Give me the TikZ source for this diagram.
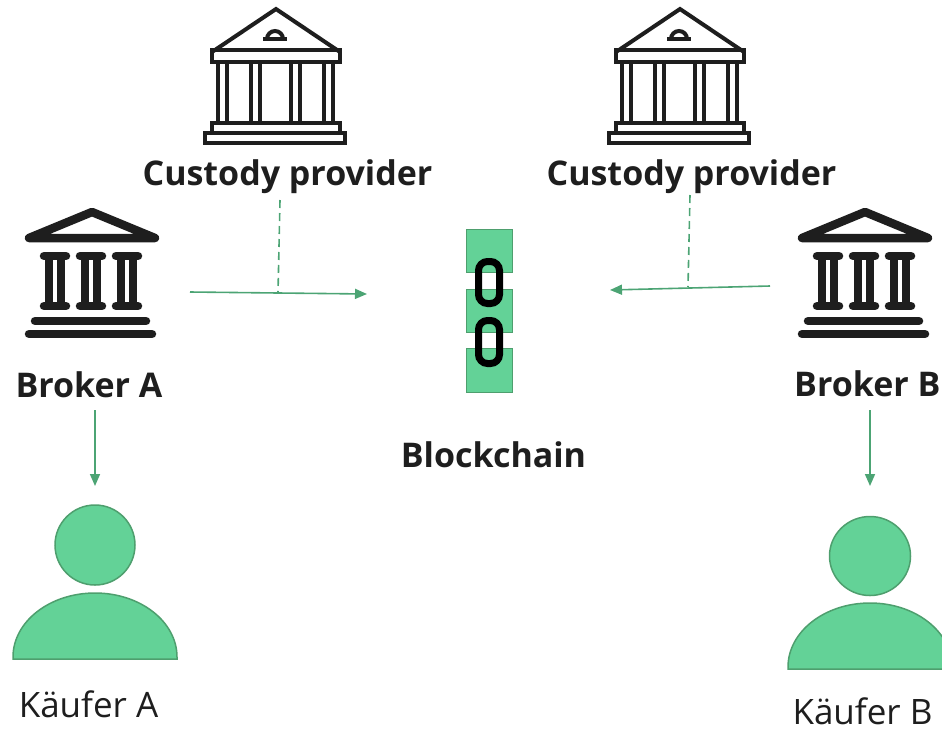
\documentclass[tikz,border=0pt]{standalone}
\usepackage{fontspec}
\setmainfont{Open Sans}
\usetikzlibrary{arrows.meta}
\definecolor{gfill}{HTML}{63D297}
\definecolor{gline}{HTML}{4E9F6E}
\definecolor{garrow}{HTML}{4CA474}
\definecolor{ink}{HTML}{1E1E1E}
\tikzset{
  lbl/.style={font=\fontsize{34}{38}\selectfont\bfseries, text=ink, inner sep=0pt, anchor=base},
  plain/.style={font=\fontsize{35}{38}\selectfont, text=ink, inner sep=0pt, anchor=base},
  flow/.style={draw=garrow, line width=1.6pt, -{Triangle[length=12pt,width=10pt]}},
  dashflow/.style={draw=garrow, line width=1.6pt, dash pattern=on 8pt off 5pt},
  custody/.style={draw=ink, line width=4pt, line join=miter},
  brk/.style={draw=ink, line width=8.5pt, line cap=round, line join=round},
  blk/.style={fill=gfill, draw=gline, line width=1pt},
  link/.style={draw=black, line width=7pt, rounded corners=9pt},
  person/.style={fill=gfill, draw=gline, line width=1.5pt}
}
\newcommand{\custodyicon}[1]{%
  \begin{scope}[shift={(#1,0)}]
    \draw[custody] (212,52) -- (276,9) -- (340,52);
    \draw[custody] (212,50) rectangle (340,62);
    \draw[custody] (263,39) -- (287,39);
    \draw[custody] (267,39) arc[start angle=180,end angle=360,radius=8];
    \foreach \cx in {222,255,295,328}{
      \draw[custody] (\cx-4.5,62) -- (\cx-4.5,123);
      \draw[custody] (\cx+4.5,62) -- (\cx+4.5,123);
    }
    \draw[custody] (212,123) rectangle (340,133);
    \draw[custody] (205,133) rectangle (345,143);
  \end{scope}}
\newcommand{\brokericon}[1]{%
  \begin{scope}[shift={(#1,0)}]
    \draw[brk] (92,212) -- (29,238) -- (155,238) -- cycle;
    \foreach \cx in {55,91,127}{
      \draw[brk] (\cx-11,256) -- (\cx+11,256);
      \draw[brk] (\cx-11,306) -- (\cx+11,306);
      \draw[ink, line width=8pt] (\cx-6,256) rectangle (\cx+6,306);
    }
    \draw[brk] (35,321) -- (146,321);
    \draw[brk] (29,334) -- (152,334);
  \end{scope}}
\begin{document}
\begin{tikzpicture}[x=1pt,y=-1pt]
\useasboundingbox (0,0) rectangle (942,732);
% custody providers
\custodyicon{0}
\custodyicon{404}
\node[lbl] (cpA) at (287.5,185) {Custody provider};
\node[lbl] (cpB) at (691.5,185) {Custody provider};
% brokers
\brokericon{0}
\brokericon{773}
\node[lbl] (brA) at (89,397) {Broker A};
\node[lbl, anchor=base west] (brB) at (794,396) {Broker B};
% blockchain
\draw[blk] (466,229) rectangle (512,272);
\draw[blk] (466,289) rectangle (512,332);
\draw[blk] (466,348) rectangle (512,392);
\draw[link] (478.5,261.5) rectangle (499.5,303.5);
\draw[link] (478.5,320.5) rectangle (499.5,363.5);
\node[lbl] (bc) at (493.5,467) {Blockchain};
% persons
\draw[person] (95,545) circle[radius=40];
\draw[person] (13,659) -- (13,657) arc[start angle=180,end angle=360,x radius=82,y radius=64] -- (177,659) -- cycle;
\draw[person] (870,556) circle[x radius=40.5, y radius=39.5];
\draw[person] (788,669) -- (788,667) arc[start angle=180,end angle=360,x radius=82,y radius=64] -- (952,669) -- cycle;
\node[plain] (kA) at (88.5,717) {Käufer A};
\node[plain] (kB) at (862.5,724) {Käufer B};
% connectors
\coordinate (a1) at (190,292);
\coordinate (a2) at (367,294);
\coordinate (a3) at (280,200);
\coordinate (a4) at (278,293);
\coordinate (b1) at (770,286);
\coordinate (b2) at (610,290);
\coordinate (b3) at (690,195);
\coordinate (b4) at (688,287);
\coordinate (c1) at (95,410);
\coordinate (c2) at (95,486);
\coordinate (d1) at (870,410);
\coordinate (d2) at (870,486);
\draw[flow] (a1) -- (a2);
\draw[dashflow] (a3) -- (a4);
\draw[flow] (b1) -- (b2);
\draw[dashflow] (b3) -- (b4);
\draw[flow] (c1) -- (c2);
\draw[flow] (d1) -- (d2);
\end{tikzpicture}
\end{document}
